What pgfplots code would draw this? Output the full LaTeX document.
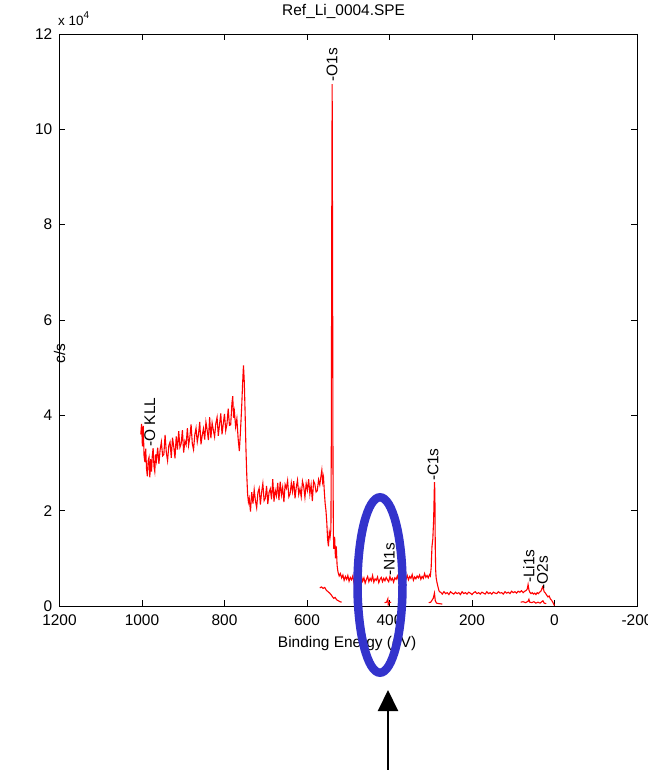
\documentclass[border=0pt]{standalone}
\usepackage{fontspec}
\setmainfont{Liberation Sans}
\usepackage{pgfplots}
\usepackage{pgfplotstable}
\pgfplotsset{compat=1.18}
\usetikzlibrary{arrows.meta}
\newcommand\fs{\fontsize{15.5}{18}\selectfont}
\definecolor{ellblue}{RGB}{51,51,204}

\pgfplotstableread{
x y
1003 36000
1001 38200
999 33500
997 37800
995 31500
993 30200
991 33000
989 28800
987 27200
985 30500
983 31200
981 27000
979 30800
977 28200
975 31500
973 33100
971 29300
969 28200
967 31800
965 30500
962 33200
959 29800
956 32800
953 34400
950 31500
947 31800
944 35900
941 32200
938 30500
935 33600
932 34400
929 31100
926 35300
923 33400
920 31000
917 35600
914 32800
911 36700
908 33300
905 34100
902 36900
899 32200
896 34600
893 33800
890 37300
887 33700
884 35400
881 38100
878 34000
875 32800
872 35900
869 37300
866 34400
863 36000
860 38600
857 33900
854 35800
851 37200
848 34900
845 38600
842 36900
839 34800
836 39600
833 35200
830 38400
827 36900
824 35500
821 38300
818 39600
815 35700
812 38100
809 40400
806 36000
803 38200
800 40300
797 36800
794 38200
791 41400
788 37900
785 38000
782 42500
780 44000
778 39500
776 40800
773 37600
770 39300
767 35200
764 32500
762 35500
760 38800
758 42500
756 46800
754 50500
752 47000
750 40500
748 33000
746 27500
744 23500
742 21800
740 22600
737 19800
734 23900
731 21500
728 24400
725 22100
722 20600
719 23800
716 24700
713 21300
710 23900
707 25700
704 22100
701 22600
698 25200
695 21400
692 23800
689 24600
686 22400
683 26600
680 21900
677 24300
674 23100
671 25800
668 22200
665 26100
662 23300
659 24900
656 21800
653 25500
650 24700
647 26300
644 22900
641 23500
638 25800
635 24000
632 26200
629 22600
626 24900
623 26400
620 23400
617 24600
614 22900
611 26200
608 25100
605 22800
602 25700
599 24300
596 26600
593 23500
590 25400
587 22000
584 26200
581 25600
578 23900
575 24200
572 26500
569 25400
566 27300
564 28500
562 26000
560 27000
558 24000
556 21500
554 20000
552 17500
550 14000
548 12500
546 15500
544 14500
542 16000
541 35000
540 80000
539 109500
538 75000
537 30000
536 15000
535 12000
533 14500
531 10000
529 12500
527 8500
525 7200
522 6300
519 6800
516 5900
513 6500
510 5400
507 6200
504 5600
501 6400
498 5200
495 6000
492 5500
489 6300
486 4900
483 5800
480 5300
477 6100
474 5000
471 5700
468 6300
465 5200
462 5900
459 4800
456 5600
453 6200
450 5100
447 5800
444 5300
441 6400
438 5000
435 5700
432 5400
429 6100
426 4900
423 5600
420 6000
417 5100
414 5800
411 5300
408 6000
405 5500
402 5100
399 6200
396 5400
393 5800
390 5000
387 5900
384 5600
381 6300
378 5300
375 6100
372 5700
369 6500
366 5400
363 6000
360 5600
357 6400
354 5500
351 6200
348 5800
345 6600
342 5400
339 6100
336 5700
333 6300
330 5900
327 6500
324 5600
321 6200
318 5800
315 6800
312 6000
309 6400
306 5900
303 6600
301 6300
299 8000
297 12500
295 14000
293 18000
291 26000
290 24000
289 12000
288 7500
287 6000
285 5000
283 4200
281 3500
279 3000
276 2900
272 2500
268 3000
264 2600
260 2800
256 2400
252 3000
248 2700
244 2500
240 2900
236 2600
232 2800
228 2400
224 3000
220 2600
216 2800
212 2500
208 2900
204 2700
200 2400
196 2800
192 3000
188 2600
184 2800
180 2500
176 2900
172 2700
168 2500
164 3000
160 2600
156 2800
152 2500
148 2900
144 2700
140 2600
136 3000
132 2700
128 2800
124 2500
120 3000
116 2700
112 2900
108 2600
104 3100
100 2800
96 3000
92 2700
88 3100
84 2900
80 3200
76 2800
72 3100
68 3300
66 3600
64 4500
62 3400
60 2900
57 2600
54 2800
51 2500
48 2700
45 2400
42 2800
39 2600
36 2900
33 3100
31 3500
29 4000
27 3600
25 3000
22 2700
19 2300
16 1900
13 2100
10 1500
7 1200
4 800
2 400
0 100
}\survey

\pgfplotstableread{
x y
569 3800
565 4000
561 3700
557 3900
553 3300
549 3000
545 2700
541 2300
538 1900
535 1600
532 1800
528 1300
524 1100
520 900
516 800
}\lowA

\pgfplotstableread{
x y
412 700
407 800
404 1500
403 300
401 700
396 800
}\lowB

\pgfplotstableread{
x y
305 700
300 800
297 1200
294 1600
291 2700
289 1100
286 600
280 500
272 400
}\lowC

\pgfplotstableread{
x y
82 800
76 900
70 700
64 1000
62 1400
60 800
55 700
50 900
45 600
40 800
35 600
31 900
28 1100
25 600
20 500
}\lowD

\begin{document}
\begin{tikzpicture}
\begin{axis}[
  at={(0,0)}, anchor=south west,
  scale only axis,
  width=577.5bp, height=572bp,
  x dir=reverse,
  xmin=-200, xmax=1200, ymin=0, ymax=120000,
  xtick={-200,0,200,400,600,800,1000,1200},
  xticklabels={-200,0,200,400,600,800,1000,1200},
  ytick={0,20000,40000,60000,80000,100000,120000},
  yticklabels={0,2,4,6,8,10,12},
  scaled y ticks=false,
  tick align=inside,
  major tick length=6bp,
  tick pos=both,
  axis line style={black, line width=0.9bp},
  every tick/.style={black, line width=0.7bp},
  /pgf/number format/assume math mode=true,
  tick label style={font=\fs},
  xticklabel style={anchor=north, inner sep=0pt, yshift=-9bp},
  yticklabel style={anchor=east, inner sep=0pt, xshift=-7bp},
  title={Ref\_Li\_0004.SPE},
  title style={font=\fs, at={(axis description cs:0.492,1)}, anchor=base, yshift=13bp, inner sep=0pt},
  xlabel={Binding Energy (eV)},
  xlabel style={font=\fs, at={(axis description cs:0.498,0)}, anchor=base, yshift=-41bp, inner sep=0pt},
  ylabel={c/s},
  ylabel style={font=\fs, at={(axis description cs:0,0.507)}, anchor=center, xshift=-37.5bp, rotate=0},
  clip=false,
]
\addplot[red, line width=1.1bp] table[x=x,y=y] {\survey};
\addplot[red, line width=1.1bp, forget plot] table[x=x,y=y] {\lowA};
\addplot[red, line width=1.1bp, forget plot] table[x=x,y=y] {\lowB};
\addplot[red, line width=1.1bp, forget plot] table[x=x,y=y] {\lowC};
\addplot[red, line width=1.1bp, forget plot] table[x=x,y=y] {\lowD};
\node[rotate=90, anchor=west, inner sep=0pt, font=\fs] at (axis cs:981,33400) {-O KLL};
\node[rotate=90, anchor=west, inner sep=0pt, font=\fs] at (axis cs:539,110000) {-O1s};
\node[rotate=90, anchor=west, inner sep=0pt, font=\fs] at (axis cs:294.5,26200) {-C1s};
\node[rotate=90, anchor=west, inner sep=0pt, font=\fs] at (axis cs:400,6300) {-N1s};
\node[rotate=90, anchor=west, inner sep=0pt, font=\fs] at (axis cs:62,4800) {-Li1s};
\node[rotate=90, anchor=west, inner sep=0pt, font=\fs] at (axis cs:29,3400) {-O2s};
\end{axis}
\node[anchor=base west, inner sep=0pt] at (-1.5bp,580bp) {\fontsize{13.5}{15}\selectfont x 10\raisebox{7bp}{\fontsize{10}{10}\selectfont 4}};
\draw[ellblue, line width=8.5bp] (320.5bp,21bp) ellipse [x radius=22.5bp, y radius=87.7bp];
\draw[black, line width=2bp, -{Triangle[length=21bp,width=20bp]}] (328.5bp,-164bp) -- (328.5bp,-84bp);
\pgfresetboundingbox
\path[use as bounding box] (-59.5bp,-164bp) rectangle (588.5bp,606bp);
\end{tikzpicture}
\end{document}
